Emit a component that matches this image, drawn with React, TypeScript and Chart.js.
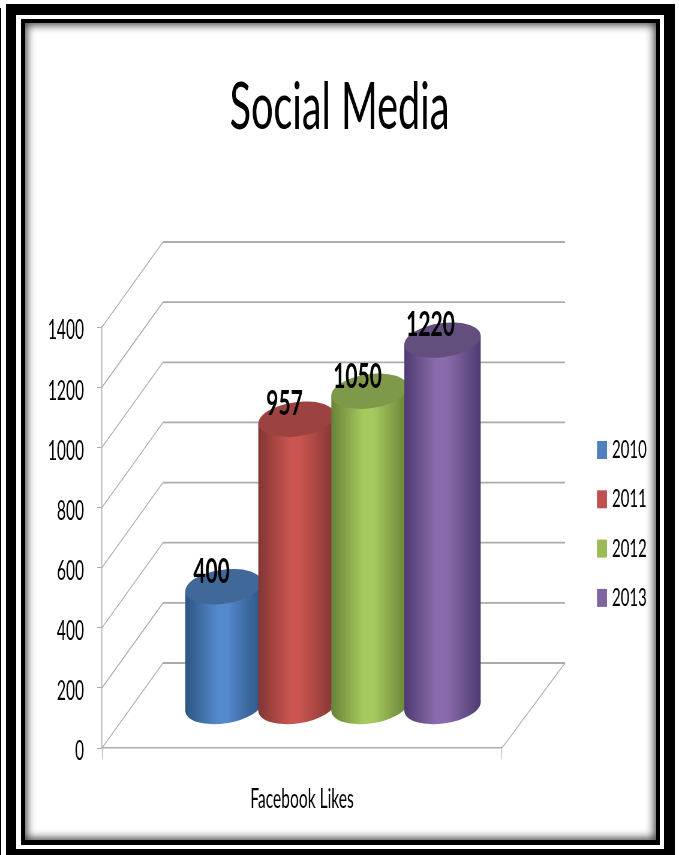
import React, { useEffect, useRef } from "react";
import { Chart, registerables } from "chart.js";

Chart.register(...registerables);

const categories = ["Facebook Likes"];
const years = ["2010", "2011", "2012", "2013"];
const likes = [400, 957, 1050, 1220];
const yTickStep = 200;
const yMax = 1400;
const sideColors = ["#2C5582", "#823634", "#688238", "#4E3B70"];
const midColors = ["#5489CC", "#CA5551", "#A6CA5E", "#8A6CAE"];
const topColors = ["#40699A", "#9C4240", "#7F994A", "#634F7E"];
const legendColors = ["#4F81BD", "#C0504D", "#9BBB59", "#8064A2"];

const WIDTH = 679;
const HEIGHT = 855;
const CANVAS_W = 1132;
const K = WIDTH / CANVAS_W;
const FONT = "Lato, Carlito, sans-serif";
const DEPTH_X = 61;
const DEPTH_Y = -85;
const BAR_DX = 31;
const BAR_DY = -41;
const GRID = "#ABABAB";

const cylinderPlugin = {
  id: "cylinder3d",
  beforeDatasetsDraw(chart: any) {
    const { ctx, chartArea, scales } = chart;
    const left = chartArea.left * K;
    const right = chartArea.right * K;
    ctx.save();
    ctx.scale(1 / K, 1);
    for (let v = 0; v <= yMax; v += yTickStep) {
      const y = scales.y.getPixelForValue(v);
      ctx.strokeStyle = GRID;
      ctx.lineWidth = 1;
      ctx.beginPath();
      ctx.moveTo(left, y);
      ctx.lineTo(left + DEPTH_X, y + DEPTH_Y);
      ctx.stroke();
      ctx.lineWidth = 1.8;
      ctx.beginPath();
      ctx.moveTo(left + DEPTH_X, y + DEPTH_Y);
      ctx.lineTo(right + DEPTH_X + 2, y + DEPTH_Y);
      ctx.stroke();
    }
    const y0 = scales.y.getPixelForValue(0);
    ctx.lineWidth = 1;
    ctx.beginPath();
    ctx.moveTo(right, y0);
    ctx.lineTo(right + DEPTH_X + 2, y0 + DEPTH_Y);
    ctx.stroke();
    ctx.restore();
  },
  beforeDatasetDraw() {
    return false;
  },
  afterDatasetsDraw(chart: any) {
    const { ctx } = chart;
    const angle = -0.14;
    const ry = 17;
    chart.data.datasets.forEach((ds: any, i: number) => {
      const el = chart.getDatasetMeta(i).data[0];
      const cx = el.x * K + BAR_DX;
      const rx = (el.width * K) / 2 + 2;
      const topY = el.y + BAR_DY;
      const botY = el.base + BAR_DY;
      const t = Math.atan2(-ry * Math.sin(angle), rx * Math.cos(angle));
      const ox = rx * Math.cos(t) * Math.cos(angle) - ry * Math.sin(t) * Math.sin(angle);
      const oy = rx * Math.cos(t) * Math.sin(angle) + ry * Math.sin(t) * Math.cos(angle);
      ctx.save();
      ctx.scale(1 / K, 1);
      const g = ctx.createLinearGradient(cx - rx, 0, cx + rx, 0);
      g.addColorStop(0, sideColors[i]);
      g.addColorStop(0.42, midColors[i]);
      g.addColorStop(0.55, midColors[i]);
      g.addColorStop(1, sideColors[i]);
      ctx.fillStyle = g;
      ctx.beginPath();
      ctx.ellipse(cx, botY, rx, ry, angle, 0, Math.PI * 2);
      ctx.fill();
      ctx.beginPath();
      ctx.moveTo(cx - ox, topY - oy);
      ctx.lineTo(cx + ox, topY + oy);
      ctx.lineTo(cx + ox, botY + oy);
      ctx.lineTo(cx - ox, botY - oy);
      ctx.closePath();
      ctx.fill();
      ctx.fillStyle = topColors[i];
      ctx.beginPath();
      ctx.ellipse(cx, topY, rx, ry, angle, 0, Math.PI * 2);
      ctx.fill();
      ctx.restore();
    });
    // value labels and legend are drawn after every cylinder
    ctx.save();
    ctx.fillStyle = "#000";
    ctx.textAlign = "center";
    ctx.textBaseline = "middle";
    ctx.font = `bold 35px ${FONT}`;
    chart.data.datasets.forEach((ds: any, i: number) => {
      const el = chart.getDatasetMeta(i).data[0];
      const x = el.x + (BAR_DX - 12) / K;
      ctx.fillText(String(ds.data[0]), x, el.y + BAR_DY - 15);
    });
    ctx.restore();
    ctx.save();
    ctx.textBaseline = "middle";
    ctx.textAlign = "left";
    ctx.font = `25px ${FONT}`;
    chart.data.datasets.forEach((ds: any, i: number) => {
      const y = 450 + i * 49.3;
      ctx.fillStyle = legendColors[i];
      ctx.fillRect(597 / K, y - 9, 10 / K, 18);
      ctx.fillStyle = "#000";
      ctx.fillText(ds.label, 612 / K, y);
    });
    ctx.restore();
  },
};

const box = (l: number, t: number, r: number, b: number, bg: string, extra: any = {}) => ({
  position: "fixed" as const,
  left: l,
  top: t,
  width: r - l,
  height: b - t,
  background: bg,
  ...extra,
});

export default function App() {
  const ref = useRef<HTMLCanvasElement>(null);
  useEffect(() => {
    const chart = new Chart(ref.current as HTMLCanvasElement, {
      type: "bar",
      data: {
        labels: categories,
        datasets: years.map((y, i) => ({
          label: y,
          data: [likes[i]],
          backgroundColor: legendColors[i],
          categoryPercentage: 0.73,
          barPercentage: 1,
          yAxisID: "y",
        })),
      },
      options: {
        animation: false,
        responsive: false,
        devicePixelRatio: 1,
        layout: { padding: { left: 0, right: 0, top: 0, bottom: 0 } },
        plugins: {
          legend: { display: false },
          tooltip: { enabled: false },
          title: {
            display: true,
            text: "Social Media",
            color: "#000",
            font: { family: FONT, size: 66, weight: "normal", lineHeight: 1.2 },
            padding: { top: 68, bottom: 327 - 68 - 79.2 },
          },
        },
        scales: {
          x: {
            offset: true,
            grid: { offset: true, drawOnChartArea: false, drawTicks: true, color: GRID, tickLength: 11 },
            border: { color: GRID, width: 1.5 },
            ticks: { color: "#000", padding: 25, font: { family: FONT, size: 26 } },
            afterFit: (s: any) => {
              s.height = HEIGHT - 748;
            },
          },
          y: {
            min: 0,
            max: yMax,
            ticks: {
              stepSize: yTickStep,
              color: "#000",
              padding: 22,
              labelOffset: 4,
              font: { family: FONT, size: 26 },
              callback: (v: any) => String(v),
            },
            grid: { drawOnChartArea: false, drawTicks: true, color: GRID, tickLength: 8 },
            border: { color: GRID, width: 1.5 },
            afterFit: (s: any) => {
              s.width = 102 / K;
            },
          },
          legendGutter: {
            axis: "y",
            type: "linear",
            position: "right",
            grid: { display: false },
            border: { display: false },
            ticks: { display: false },
            afterFit: (s: any) => {
              s.width = CANVAS_W - 502 / K;
            },
          },
        },
      },
      plugins: [cylinderPlugin],
    } as any);
    return () => chart.destroy();
  }, []);
  return (
    <div style={box(0, 0, WIDTH, HEIGHT, "#fff", { overflow: "hidden" })}>
      <div style={box(0, 8, 1, HEIGHT, "#000")} />
      <div style={box(6, 4, 675, HEIGHT, "#000")} />
      <div style={box(16, 15, 664, 849, "#fff")} />
      <div style={box(21, 19, 660, 845, "#000")} />
      <div style={box(25, 23, 656, 840, "#fff", { boxShadow: "inset 0 0 9px 2px rgba(0,0,0,0.75)" })} />
      <div
        style={{
          position: "fixed",
          left: 0,
          top: 0,
          width: CANVAS_W,
          height: HEIGHT,
          transform: `scaleX(${K})`,
          transformOrigin: "0 0",
        }}
      >
        <canvas ref={ref} width={CANVAS_W} height={HEIGHT} style={{ display: "block" }} />
      </div>
    </div>
  );
}
